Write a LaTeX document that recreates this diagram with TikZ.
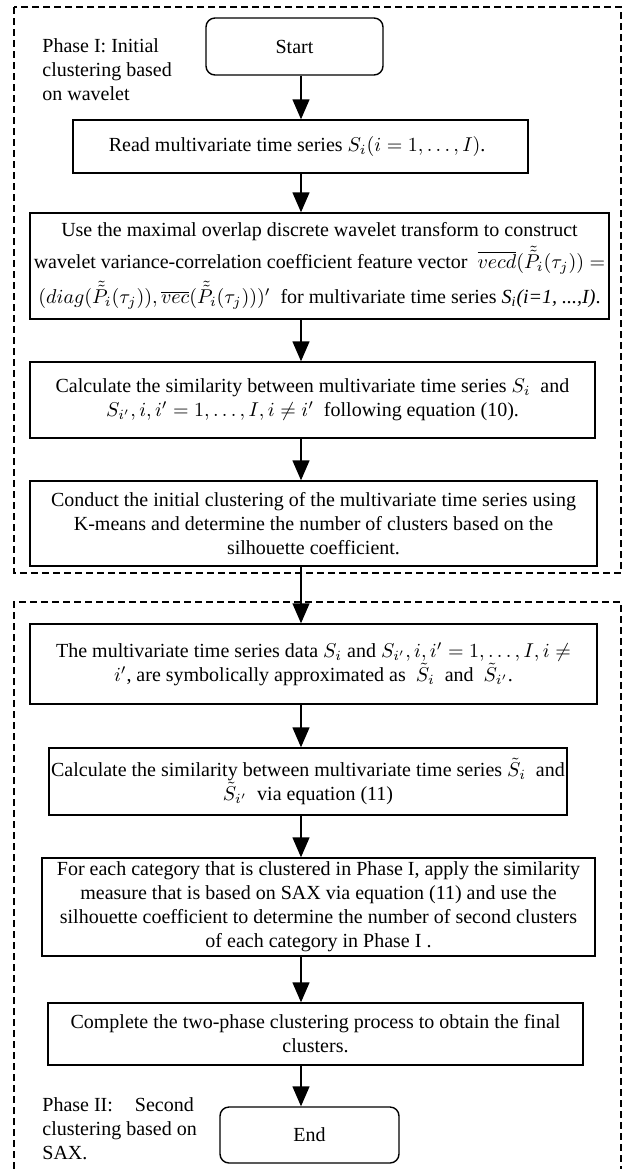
\documentclass[tikz,border=0pt]{standalone}
\usepackage{fontspec}
\setmainfont{Liberation Serif}
\usepackage{amsmath}
\usepackage{tikz}
\usetikzlibrary{arrows.meta}

\begin{document}
\begin{tikzpicture}[
    x=0.5pt, y=-0.5pt,
    flowBox/.style={
        rectangle,
        draw=black,
        line width=0.7pt,
        inner sep=0pt,
        align=center,
        font=\rmfamily
    },
    termBox/.style={
        flowBox,
        rounded corners=4.5pt
    },
    phaseFrame/.style={
        draw=black,
        line width=0.6pt,
        dash pattern=on 3.5pt off 2pt
    },
    phaseLabel/.style={
        anchor=north west,
        align=left,
        inner sep=0pt
    },
    arrowLine/.style={
        -{Triangle[length=10pt,width=8.5pt]},
        line width=0.7pt
    }
]
\useasboundingbox (0,0) rectangle (629,1169);

% Phase frames
\draw[phaseFrame] (14,7) rectangle (621,573);
\draw[phaseFrame] (14,1169) -- (14,602) -- (621,602) -- (621,1169);

\node[phaseLabel] (phase1) at (42,38) {Phase I: Initial\\clustering based\\on wavelet};
\node[phaseLabel] (phase2) at (42,1097) {Phase II:\hspace{1.1em}Second\\clustering based on\\SAX.};

% Phase I
\node[termBox, minimum width=88.5pt, minimum height=28.5pt] (start) at (294.5,46.5) {Start};

\node[flowBox, minimum width=227.5pt, minimum height=26.5pt] (read) at (300.5,146.5) {
    Read multivariate time series $S_i(i=1,\ldots,I)$.
};

\node[flowBox, minimum width=289.5pt, minimum height=53pt] (wavelet) at (319.5,266) {
    Use the maximal overlap discrete wavelet transform to construct\\[1.5pt]
    wavelet variance-correlation coefficient feature vector \ $\overline{vecd}(\tilde{\tilde{P}}_i(\tau_j)) =$\\[2pt]
    $(diag(\tilde{\tilde{P}}_i(\tau_j)), \overline{vec}(\tilde{\tilde{P}}_i(\tau_j)))'$ \ for multivariate time series \textit{S\textsubscript{i}(i=1, ...,I)}.
};

\node[flowBox, minimum width=282.5pt, minimum height=38pt] (simil) at (312.5,400) {
    Calculate the similarity between multivariate time series $S_i$ \ and\\
    $S_{i'}, i, i' = 1,\ldots,I, i \neq i'$ \ following equation (10).
};

\node[flowBox, minimum width=283.5pt, minimum height=42.5pt] (kmeans) at (313.5,523.5) {
    Conduct the initial clustering of the multivariate time series using\\
    K-means and determine the number of clusters based on the\\
    silhouette coefficient.
};

% Phase II
\node[flowBox, minimum width=283.5pt, minimum height=40pt] (symb) at (313.5,664) {
    The multivariate time series data $S_i$ and $S_{i'}, i, i' = 1,\ldots,I, i \neq$\\
    $i'$, are symbolically approximated as \ $\tilde{S}_i$ \ and \ $\tilde{S}_{i'}$.
};

\node[flowBox, minimum width=259pt, minimum height=33.5pt] (saxsim) at (308,781.5) {
    Calculate the similarity between multivariate time series $\tilde{S}_i$ \ and\\
    $\tilde{S}_{i'}$ \ via equation (11)
};

\node[flowBox, minimum width=276.5pt, minimum height=49pt] (second) at (318.5,907) {
    For each category that is clustered in Phase I, apply the similarity\\
    measure that is based on SAX via equation (11) and use the\\
    silhouette coefficient to determine the number of second clusters\\
    of each category in Phase I .
};

\node[flowBox, minimum width=267.5pt, minimum height=31pt] (complete) at (315.5,1034) {
    Complete the two-phase clustering process to obtain the final\\
    clusters.
};

\node[termBox, minimum width=89.5pt, minimum height=28pt] (end) at (309.5,1135) {End};

% Connecting arrows
\coordinate (axis) at (301,0);
\draw[arrowLine] (start.south -| axis) -- (read.north -| axis);
\draw[arrowLine] (read.south -| axis) -- (wavelet.north -| axis);
\draw[arrowLine] (wavelet.south -| axis) -- (simil.north -| axis);
\draw[arrowLine] (simil.south -| axis) -- (kmeans.north -| axis);
\draw[arrowLine] (kmeans.south -| axis) -- (symb.north -| axis);
\draw[arrowLine] (symb.south -| axis) -- (saxsim.north -| axis);
\draw[arrowLine] (saxsim.south -| axis) -- (second.north -| axis);
\draw[arrowLine] (second.south -| axis) -- (complete.north -| axis);
\draw[arrowLine] (complete.south -| axis) -- (end.north -| axis);

\end{tikzpicture}
\end{document}
